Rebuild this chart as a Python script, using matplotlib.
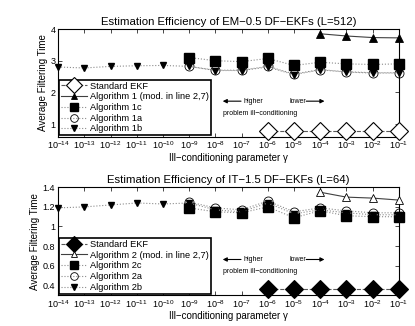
import matplotlib
matplotlib.use("Agg")
import matplotlib.pyplot as plt
import numpy as np

plt.rcParams['font.family'] = ['Liberation Sans', 'DejaVu Sans']

# gamma exponents (x axis is 10^exp)
exp_all = np.arange(-14, 0)
exp_mid = np.arange(-9, 0)
exp_high = np.arange(-4, 0)
exp_ekf = np.arange(-6, 0)

# EM-0.5 DF-EKFs (L=512)
ekf1 = [0.78, 0.78, 0.78, 0.78, 0.78, 0.78]
alg1 = [3.85, 3.78, 3.73, 3.72]
alg1c = [3.10, 3.00, 2.97, 3.07, 2.85, 2.95, 2.90, 2.88, 2.90]
alg1a = [2.82, 2.70, 2.70, 2.82, 2.58, 2.72, 2.65, 2.62, 2.62]
alg1b = [2.80, 2.77, 2.82, 2.84, 2.85, 2.82, 2.69, 2.69, 2.80, 2.56, 2.71, 2.64, 2.61, 2.61]

# IT-1.5 DF-EKFs (L=64)
ekf2 = [0.36, 0.36, 0.36, 0.36, 0.36, 0.36]
alg2 = [1.35, 1.30, 1.29, 1.27]
alg2c = [1.19, 1.15, 1.14, 1.20, 1.09, 1.16, 1.11, 1.10, 1.10]
alg2a = [1.25, 1.19, 1.17, 1.26, 1.15, 1.19, 1.16, 1.14, 1.14]
alg2b = [1.19, 1.20, 1.22, 1.24, 1.23, 1.24, 1.17, 1.15, 1.24, 1.13, 1.17, 1.14, 1.12, 1.12]

xticks = [10.0**e for e in range(-14, 0)]


def draw(ax, title, ekf, alg, algc, alga, algb, num, ekf_face, alg_face, ylim, yticks):
    ax.plot(10.0**exp_ekf, ekf, linestyle='--', color='0.35', lw=0.8, marker='D',
            markersize=9, mfc=ekf_face, mec='k', mew=0.8, label='Standard EKF',
            zorder=3, clip_on=False)
    ax.plot(10.0**exp_high, alg, linestyle='-', color='0.25', lw=0.8, marker='^',
            markersize=5.5, mfc=alg_face, mec='k', mew=0.6,
            label='Algorithm %s (mod. in line 2,7)' % num, zorder=3, clip_on=False)
    ax.plot(10.0**exp_mid, algc, linestyle=':', color='0.55', lw=0.8, marker='s',
            markersize=7, mfc='k', mec='k', label='Algorithm %sc' % num,
            zorder=3, clip_on=False)
    ax.plot(10.0**exp_mid, alga, linestyle=':', color='0.55', lw=0.8, marker='o',
            markersize=6.5, mfc='none', mec='k', mew=0.6, label='Algorithm %sa' % num,
            zorder=4, clip_on=False)
    ax.plot(10.0**exp_all, algb, linestyle=':', color='0.55', lw=0.8, marker='v',
            markersize=4.5, mfc='k', mec='k', label='Algorithm %sb' % num,
            zorder=5, clip_on=False)

    ax.set_xscale('log')
    ax.set_xlim(1e-14, 1e-1)
    ax.set_ylim(*ylim)
    ax.set_xticks(xticks)
    ax.set_yticks(yticks)
    ax.set_yticklabels(['%g' % t for t in yticks])
    ax.tick_params(which='both', direction='in', top=True, right=True, labelsize=6.5,
                   width=0.5, pad=2)
    ax.tick_params(which='major', length=3)
    ax.tick_params(which='minor', length=1.5)
    for s in ax.spines.values():
        s.set_linewidth(0.8)
    ax.set_title(title, fontsize=8.2, pad=3)
    ax.set_xlabel('Ill\u2212conditioning parameter \u03b3', fontsize=7, labelpad=1)
    ax.set_ylabel('Average Filtering Time', fontsize=7, labelpad=2)

    leg = ax.legend(loc='lower left', fontsize=6.7, handlelength=2.8, handletextpad=0.3,
                    borderaxespad=0.15, borderpad=0.2, labelspacing=0.18, fancybox=False,
                    framealpha=1, edgecolor='k', markerscale=0.85)
    leg.get_frame().set_linewidth(1.2)
    leg.set_zorder(6)

    ax.annotate('', xy=(0.475, 0.33), xytext=(0.545, 0.33), xycoords='axes fraction',
                arrowprops=dict(arrowstyle='-|>', color='k', lw=0.8, mutation_scale=6))
    ax.text(0.545, 0.33, 'higher', transform=ax.transAxes, fontsize=5, va='center')
    ax.text(0.68, 0.33, 'lower', transform=ax.transAxes, fontsize=5, va='center')
    ax.annotate('', xy=(0.79, 0.33), xytext=(0.72, 0.33), xycoords='axes fraction',
                arrowprops=dict(arrowstyle='-|>', color='k', lw=0.8, mutation_scale=6))
    ax.text(0.484, 0.215, 'problem ill\u2212conditioning', transform=ax.transAxes,
            fontsize=5, va='center')


fig, (ax1, ax2) = plt.subplots(2, 1, figsize=(4.15, 3.26), dpi=100)
fig.subplots_adjust(left=0.14, right=0.961, top=0.911, bottom=0.095, hspace=0.47)

draw(ax1, 'Estimation Efficiency of EM\u22120.5 DF\u2212EKFs (L=512)',
     ekf1, alg1, alg1c, alg1a, alg1b, '1', 'white', 'k', (0.6, 4), [1, 2, 3, 4])
draw(ax2, 'Estimation Efficiency of IT\u22121.5 DF\u2212EKFs (L=64)',
     ekf2, alg2, alg2c, alg2a, alg2b, '2', 'k', 'white', (0.3, 1.4),
     [0.4, 0.6, 0.8, 1.0, 1.2, 1.4])

fig.savefig('out.png', dpi=100)
